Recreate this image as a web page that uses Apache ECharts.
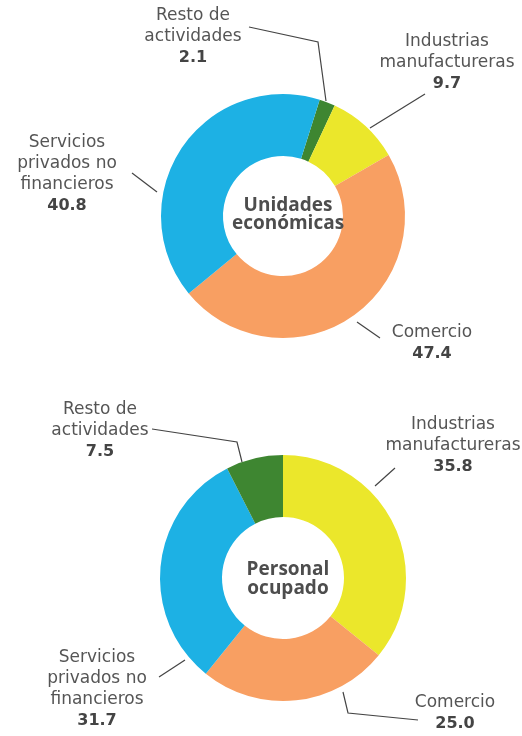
<!DOCTYPE html>
<html>
<head>
<meta charset="utf-8">
<script src="https://cdn.jsdelivr.net/npm/echarts@6/dist/echarts.min.js"></script>
<style>
  html, body { margin: 0; padding: 0; background: #fff; }
  #chart { width: 522px; height: 736px; }
</style>
</head>
<body>
<div id="chart"></div>
<script>
// datos
var topNames = ["Resto de\nactividades", "Industrias\nmanufactureras", "Comercio", "Servicios\nprivados no\nfinancieros"];
var topValues = [2.1, 9.7, 47.4, 40.8];
var bottomNames = ["Industrias\nmanufactureras", "Comercio", "Servicios\nprivados no\nfinancieros", "Resto de\nactividades"];
var bottomValues = [35.8, 25.0, 31.7, 7.5];
var topTitle = "Unidades\neconómicas";
var bottomTitle = "Personal\nocupado";

var colorByName = {
  "Resto de\nactividades": "#3e8631",
  "Industrias\nmanufactureras": "#ebe72b",
  "Comercio": "#f89f62",
  "Servicios\nprivados no\nfinancieros": "#1db1e4"
};

// posiciones de etiquetas y guias
var labelPos = [
  [
    { x: 193, y: 5, line: [[326, 101], [318, 42], [249, 27]] },
    { x: 447, y: 31, line: [[370, 128], [425, 94]] },
    { x: 432, y: 322, line: [[357, 322], [380, 338]] },
    { x: 67, y: 132, line: [[157, 192], [132, 173]] }
  ],
  [
    { x: 453, y: 414, line: [[375, 486], [395, 468]] },
    { x: 455, y: 692, line: [[343, 692], [348, 713], [418, 720]] },
    { x: 97, y: 647, line: [[185, 660], [159, 677]] },
    { x: 100, y: 399, line: [[242, 462], [237, 442], [152, 429]] }
  ]
];

function buildData(names, values) {
  return names.map(function (n, i) {
    return { name: n, value: values[i], itemStyle: { color: colorByName[n] } };
  });
}

var labelOpt = {
  show: true,
  position: "outside",
  align: "center",
  overflow: "none",
  formatter: function (p) {
    return "{n|" + p.name.split("\n").join("}\n{n|") + "}\n{v|" + p.value.toFixed(1) + "}";
  },
  rich: {
    n: { fontFamily: "DejaVu Sans", fontSize: 17, lineHeight: 21, color: "#555555", align: "center" },
    v: { fontFamily: "DejaVu Sans", fontSize: 16, fontWeight: "bold", lineHeight: 21, color: "#444444", align: "center" }
  }
};

function layoutFn(params) {
  var cfg = labelPos[params.seriesIndex][params.dataIndex];
  return {
    x: cfg.x,
    y: cfg.y,
    align: "center",
    verticalAlign: "top",
    labelLinePoints: cfg.line
  };
}

var myChart = echarts.init(document.getElementById("chart"));
var option = {
  animation: false,
  title: [
    {
      text: topTitle,
      left: 283,
      top: 192,
      textAlign: "center",
      textStyle: { fontFamily: "Open Sans", fontWeight: "bold", fontSize: 19, lineHeight: 18, color: "#4d4d4d" }
    },
    {
      text: bottomTitle,
      left: 283,
      top: 555,
      textAlign: "center",
      textStyle: { fontFamily: "Open Sans", fontWeight: "bold", fontSize: 19, lineHeight: 19, color: "#4d4d4d" }
    }
  ],
  series: [
    {
      type: "pie",
      center: [283, 216],
      radius: [60, 122],
      startAngle: 72.5,
      clockwise: true,
      label: labelOpt,
      labelLine: { show: true, lineStyle: { color: "#444", width: 1.2 } },
      labelLayout: layoutFn,
      emphasis: { disabled: true },
      data: buildData(topNames, topValues)
    },
    {
      type: "pie",
      center: [283, 578],
      radius: [61, 123],
      startAngle: 90,
      clockwise: true,
      label: labelOpt,
      labelLine: { show: true, lineStyle: { color: "#444", width: 1.2 } },
      labelLayout: layoutFn,
      emphasis: { disabled: true },
      data: buildData(bottomNames, bottomValues)
    }
  ]
};
myChart.setOption(option);
</script>
</body>
</html>
